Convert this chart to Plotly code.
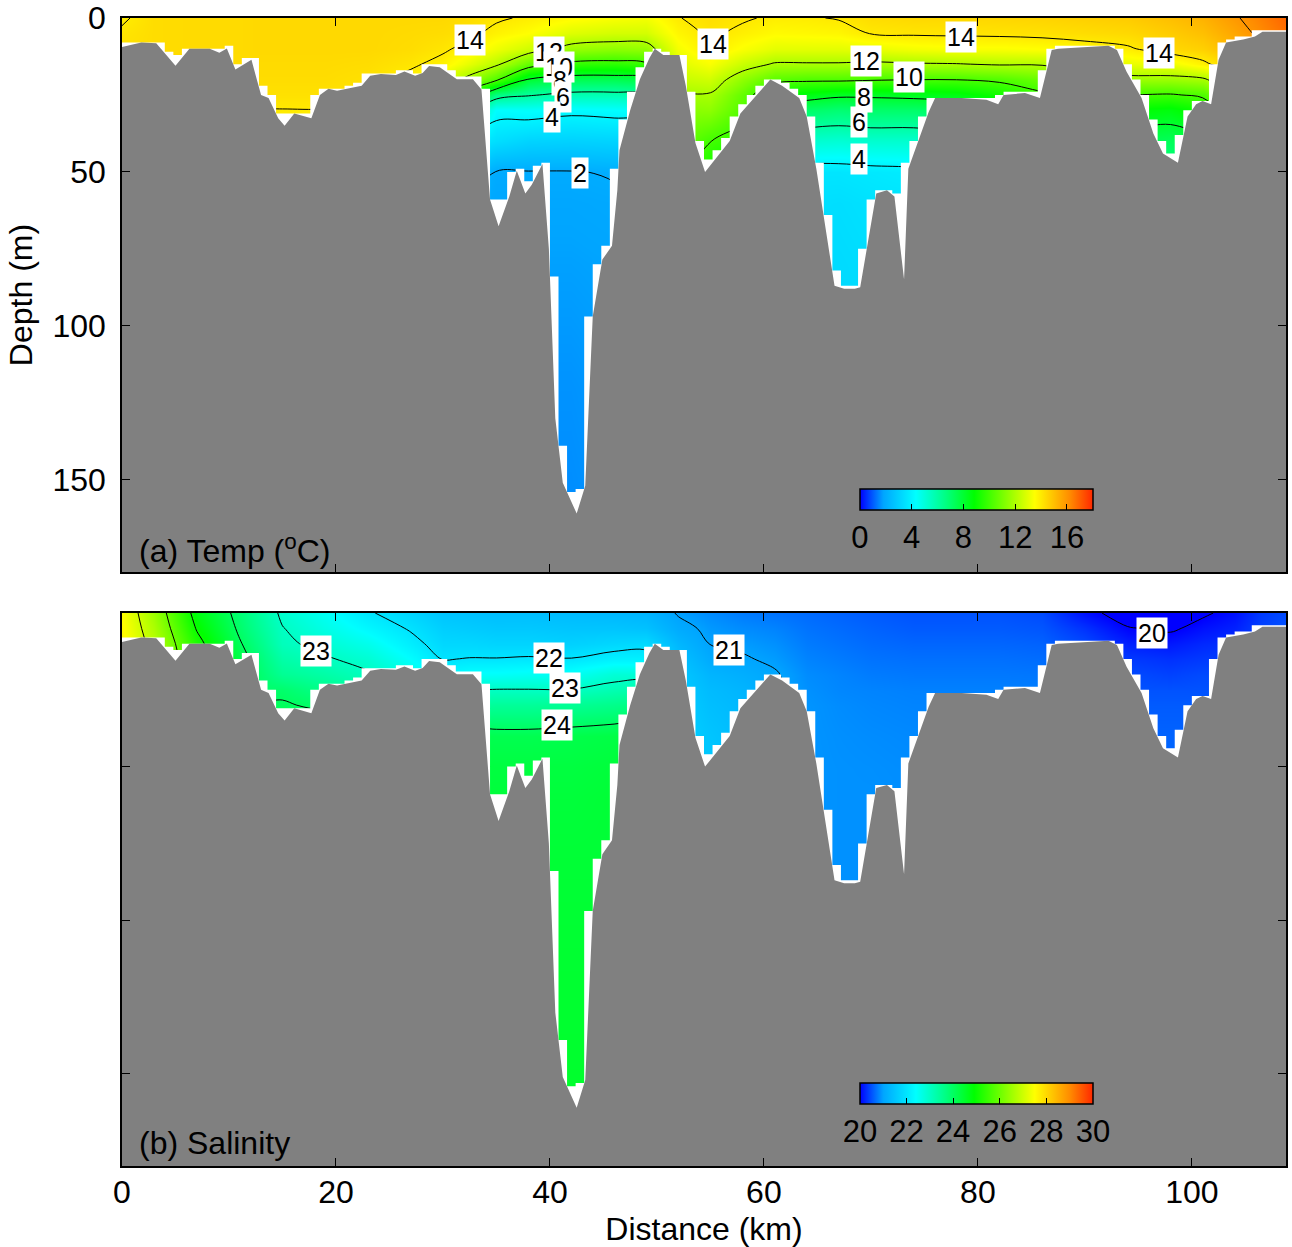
import numpy as np
import plotly.graph_objects as go

# ---------------- data ----------------
station_km = [0, 3, 7, 11, 13, 15, 19, 23, 27, 30, 32.5, 35, 38, 42, 46, 49, 52, 55, 58, 61,
              64, 67, 70, 74, 78, 82, 86, 90, 94, 98, 101, 104, 106.5, 108.8]
depth_levels = [0, 5, 10, 15, 20, 25, 30, 40, 50, 60, 80, 120, 180]

# temperature profiles (one list per station, values at depth_levels)
temp_profiles = [
    [13.9, 14.1, 14.2, 14.3, 14.3, 14.3, 14.3, 14.2, 14.1, 13.9, 13.9, 13.9, 13.9],
    [14.3, 14.3, 14.3, 14.3, 14.3, 14.3, 14.3, 14.2, 14.1, 13.9, 13.9, 13.9, 13.9],
    [14.35, 14.35, 14.35, 14.3, 14.3, 14.3, 14.2, 14.1, 13.9, 13.9, 13.9, 13.9, 13.9],
    [14.35, 14.35, 14.35, 14.3, 14.3, 14.2, 14.1, 13.9, 13.8, 13.7, 13.6, 13.5, 13.5],
    [14.4, 14.4, 14.4, 14.35, 14.3, 14.2, 13.98, 13.6, 13.2, 13.1, 13.1, 13.1, 13.1],
    [14.4, 14.4, 14.4, 14.35, 14.3, 14.2, 13.98, 13.6, 13.2, 13.1, 13.1, 13.1, 13.1],
    [14.4, 14.4, 14.4, 14.35, 14.3, 14.2, 13.98, 13.6, 13.2, 13.1, 13.1, 13.1, 13.1],
    [14.4, 14.4, 14.4, 14.3, 14.2, 14.1, 13.9, 13.5, 13.1, 12.5, 11.9, 11.9, 11.9],
    [14.4, 14.35, 14.3, 14.1, 13.8, 13.3, 12.5, 9.9, 7.1, 5.1, 3.9, 3.1, 3.1],
    [14.4, 14.3, 14.1, 13.8, 12.8, 11.5, 9.9, 7.1, 3.9, 3.1, 2.5, 1.9, 1.9],
    [14.3, 14.15, 13.8, 13.0, 11.6, 9.1, 6.5, 3.9, 2.6, 1.97, 1.8, 1.6, 1.5],
    [14.1, 13.8, 13.2, 12.2, 10.2, 6.6, 4.3, 3.4, 1.97, 1.85, 1.75, 1.6, 1.5],
    [13.9, 13.5, 12.6, 10.6, 7.9, 6.1, 4.4, 3.1, 1.97, 1.85, 1.75, 1.6, 1.5],
    [13.6, 12.9, 11.6, 9.7, 7.4, 5.7, 4.2, 3.05, 1.97, 1.85, 1.75, 1.6, 1.5],
    [13.4, 12.7, 11.4, 9.6, 7.4, 5.7, 4.3, 3.1, 2.05, 1.9, 1.8, 1.7, 1.6],
    [13.3, 12.7, 11.5, 9.8, 7.6, 5.9, 4.4, 3.2, 2.2, 2.1, 1.9, 1.8, 1.7],
    [13.97, 13.7, 13.3, 12.9, 12.4, 11.8, 11.3, 10.8, 10.5, 10.3, 10.2, 10.1, 10.1],
    [14.25, 14.12, 13.98, 13.4, 12.6, 11.9, 11.4, 10.02, 9.1, 8.3, 7.3, 6.3, 5.3],
    [14.08, 13.85, 13.4, 12.5, 11.4, 10.6, 10.3, 9.6, 8.1, 6.1, 4.1, 3.5, 3.1],
    [13.9, 13.6, 13.0, 11.9, 10.4, 8.8, 7.4, 5.6, 3.95, 3.6, 3.4, 3.2, 3.1],
    [13.93, 13.65, 13.0, 11.9, 10.2, 8.5, 7.1, 5.2, 3.6, 3.45, 3.35, 3.2, 3.1],
    [14.05, 13.7, 13.0, 11.9, 10.2, 8.2, 6.9, 5.1, 3.6, 3.4, 3.3, 3.2, 3.1],
    [14.3, 14.03, 13.1, 11.8, 10.1, 8.2, 7.05, 5.2, 3.7, 3.5, 3.4, 3.3, 3.1],
    [14.4, 14.1, 13.3, 11.9, 10.02, 8.3, 7.05, 5.2, 3.8, 3.6, 3.4, 3.3, 3.1],
    [14.4, 14.12, 13.4, 11.95, 10.02, 8.5, 7.2, 5.5, 4.2, 3.8, 3.5, 3.3, 3.1],
    [14.45, 14.15, 13.4, 12.1, 10.2, 9.1, 7.8, 6.1, 5.1, 4.5, 3.9, 3.5, 3.2],
    [14.5, 14.2, 13.5, 12.1, 10.7, 9.8, 8.6, 7.1, 6.1, 5.5, 5.1, 4.5, 3.9],
    [14.6, 14.3, 13.7, 12.6, 11.4, 10.2, 9.1, 7.5, 6.5, 6.1, 5.5, 5.1, 5.1],
    [14.7, 14.4, 13.9, 13.1, 11.6, 10.02, 8.8, 7.5, 6.6, 6.1, 5.5, 5.1, 5.1],
    [15.0, 14.7, 14.4, 13.2, 11.6, 9.9, 8.6, 7.3, 6.5, 6.1, 5.5, 5.1, 5.1],
    [15.3, 15.0, 14.6, 13.8, 11.8, 10.2, 9.1, 7.8, 7.1, 6.5, 6.1, 5.5, 5.1],
    [15.9, 15.6, 15.2, 14.6, 13.1, 11.9, 11.1, 9.9, 9.1, 7.9, 7.1, 6.1, 6.1],
    [16.4, 16.2, 15.9, 15.4, 13.9, 13.1, 11.9, 11.1, 9.9, 9.1, 7.9, 7.1, 7.1],
    [16.9, 16.7, 16.4, 15.9, 15.1, 13.9, 13.1, 11.9, 11.1, 9.9, 9.1, 7.9, 7.9],
]

# salinity profiles (one list per station, values at depth_levels)
sal_profiles = [
    [27.5, 27.55, 27.6, 27.65, 27.7, 27.7, 27.7, 27.7, 27.7, 27.7, 27.7, 27.7, 27.7],
    [26.5, 26.65, 26.8, 26.9, 26.95, 26.95, 26.95, 26.95, 26.95, 26.95, 26.95, 26.95, 26.95],
    [24.75, 24.95, 25.2, 25.35, 25.5, 25.6, 25.6, 25.6, 25.6, 25.6, 25.6, 25.6, 25.6],
    [23.8, 23.9, 24.05, 24.2, 24.3, 24.4, 24.4, 24.4, 24.4, 24.4, 24.4, 24.4, 24.4],
    [23.35, 23.45, 23.6, 23.75, 23.85, 23.9, 24.05, 24.3, 24.4, 24.4, 24.4, 24.4, 24.4],
    [22.9, 23.02, 23.1, 23.3, 23.5, 23.9, 24.05, 24.3, 24.4, 24.4, 24.4, 24.4, 24.4],
    [22.5, 22.65, 22.85, 23.05, 23.3, 23.6, 23.9, 24.3, 24.4, 24.4, 24.4, 24.4, 24.4],
    [22.05, 22.3, 22.6, 22.85, 23.05, 23.3, 23.6, 23.98, 24.3, 24.4, 24.4, 24.4, 24.4],
    [21.75, 21.95, 22.15, 22.4, 22.7, 22.98, 23.4, 23.98, 24.3, 24.4, 24.4, 24.4, 24.4],
    [21.5, 21.65, 21.8, 21.98, 22.3, 22.7, 23.1, 23.8, 24.3, 24.4, 24.4, 24.4, 24.4],
    [21.45, 21.6, 21.8, 22.02, 22.45, 22.98, 23.4, 24.2, 24.3, 24.35, 24.4, 24.4, 24.4],
    [21.4, 21.55, 21.75, 22.02, 22.45, 23.02, 23.45, 24.15, 24.3, 24.35, 24.4, 24.4, 24.4],
    [21.4, 21.55, 21.75, 22.05, 22.5, 23.02, 23.45, 24.15, 24.3, 24.35, 24.4, 24.45, 24.5],
    [21.35, 21.5, 21.7, 22.02, 22.5, 23.02, 23.5, 24.2, 24.3, 24.35, 24.4, 24.45, 24.5],
    [21.3, 21.5, 21.8, 22.2, 22.8, 23.2, 23.6, 24.25, 24.35, 24.4, 24.4, 24.45, 24.5],
    [21.25, 21.45, 21.85, 22.2, 22.8, 23.3, 23.7, 24.3, 24.4, 24.4, 24.4, 24.45, 24.5],
    [20.97, 21.1, 21.3, 21.45, 21.55, 21.6, 21.65, 21.7, 21.75, 21.8, 21.9, 21.95, 21.95],
    [20.85, 20.93, 20.99, 21.1, 21.25, 21.35, 21.4, 21.5, 21.55, 21.6, 21.6, 21.6, 21.6],
    [20.75, 20.85, 20.95, 21.03, 21.15, 21.25, 21.3, 21.35, 21.4, 21.4, 21.4, 21.4, 21.4],
    [20.7, 20.8, 20.88, 20.95, 21.03, 21.04, 21.02, 20.98, 20.97, 20.96, 20.95, 20.95, 20.95],
    [20.65, 20.7, 20.75, 20.8, 20.85, 20.88, 20.9, 20.9, 20.9, 20.9, 20.9, 20.9, 20.9],
    [20.6, 20.65, 20.7, 20.75, 20.8, 20.82, 20.85, 20.87, 20.88, 20.88, 20.88, 20.88, 20.88],
    [20.55, 20.6, 20.65, 20.7, 20.75, 20.8, 20.82, 20.85, 20.87, 20.88, 20.88, 20.88, 20.88],
    [20.5, 20.55, 20.62, 20.68, 20.73, 20.78, 20.8, 20.83, 20.85, 20.86, 20.86, 20.86, 20.86],
    [20.5, 20.55, 20.62, 20.68, 20.73, 20.78, 20.8, 20.83, 20.85, 20.86, 20.86, 20.86, 20.86],
    [20.5, 20.55, 20.62, 20.68, 20.73, 20.78, 20.8, 20.83, 20.85, 20.86, 20.86, 20.86, 20.86],
    [20.45, 20.52, 20.6, 20.66, 20.72, 20.76, 20.78, 20.82, 20.84, 20.85, 20.85, 20.85, 20.85],
    [20.1, 20.3, 20.45, 20.55, 20.62, 20.68, 20.72, 20.78, 20.8, 20.8, 20.8, 20.8, 20.8],
    [19.85, 20.02, 20.2, 20.35, 20.45, 20.5, 20.55, 20.6, 20.65, 20.65, 20.65, 20.65, 20.65],
    [19.6, 19.95, 20.15, 20.3, 20.4, 20.5, 20.55, 20.6, 20.62, 20.62, 20.62, 20.62, 20.62],
    [19.95, 20.1, 20.25, 20.35, 20.45, 20.5, 20.55, 20.6, 20.62, 20.62, 20.62, 20.62, 20.62],
    [20.1, 20.2, 20.3, 20.4, 20.45, 20.5, 20.55, 20.6, 20.62, 20.62, 20.62, 20.62, 20.62],
    [20.35, 20.4, 20.45, 20.5, 20.55, 20.58, 20.6, 20.62, 20.62, 20.62, 20.62, 20.62, 20.62],
    [20.45, 20.5, 20.52, 20.55, 20.58, 20.6, 20.62, 20.62, 20.62, 20.62, 20.62, 20.62, 20.62],
]

# bathymetry along the section
bathy_km = [0, 1.8, 3.2, 3.9, 5.0, 6.3, 8.2, 9.1, 9.8, 10.6, 12.1, 13.0, 13.7, 14.6, 15.2, 16.1,
            17.7, 18.5, 19.3, 20.1, 22.4, 23.2, 24.2, 25.6, 26.4, 27.4, 28.1, 28.7, 29.7, 31.3,
            32.8, 33.6, 34.4, 35.2, 36.2, 36.9, 37.7, 38.3, 39.3, 39.9, 40.5, 41.2, 42.5, 43.3,
            43.7, 44.0, 44.9, 45.8, 46.3, 46.5, 47.5, 48.4, 49.3, 49.8, 50.6, 52.1, 52.7, 53.6,
            54.5, 56.8, 57.8, 59.3, 60.6, 61.7, 63.3, 64.0, 64.9, 66.6, 67.5, 68.5, 69.0, 70.5,
            71.5, 72.2, 73.1, 73.5, 73.8, 75.4, 76.0, 78.5, 80.8, 81.9, 82.4, 84.4, 85.8, 86.9,
            87.5, 91.0, 92.2, 93.0, 93.9, 95.3, 96.4, 97.3, 98.7, 99.6, 100.4, 101.0, 101.8,
            102.5, 103.2, 104.8, 105.9, 106.6, 108.8]
bathy_m = [9.4, 8.0, 8.2, 10.9, 15.5, 10.0, 10.0, 11.3, 9.9, 16.7, 13.6, 25.0, 26.0, 32.6, 35.0, 31.0,
           32.6, 25.0, 23.0, 23.6, 22.0, 18.8, 18.2, 18.5, 17.4, 18.8, 17.9, 15.6, 16.0, 19.9,
           19.9, 23.2, 59.0, 67.7, 58.0, 49.6, 57.0, 54.2, 47.4, 75.0, 130.0, 151.0, 161.0, 152.0,
           118.5, 97.0, 78.5, 74.0, 56.0, 43.0, 30.0, 20.0, 13.0, 10.0, 12.0, 12.0, 22.0, 40.6,
           50.0, 40.0, 31.0, 25.0, 20.0, 22.0, 26.0, 32.0, 49.0, 87.0, 88.0, 88.0, 87.5, 57.0,
           56.0, 58.0, 85.0, 49.0, 46.0, 30.5, 26.0, 26.0, 26.6, 28.0, 25.0, 24.4, 26.0, 10.4,
           10.0, 9.4, 9.0, 10.4, 17.5, 26.0, 37.5, 44.0, 47.0, 32.0, 28.0, 27.0, 28.0,
           13.6, 8.0, 7.0, 6.0, 4.5, 4.5]

# contour labels (text, distance, depth)
temp_lbl_text = ['14', '14', '14', '14', '12', '10', '8', '6', '4', '2', '12', '10', '8', '6', '4']
temp_lbl_km = [32.5, 55.2, 78.4, 96.9, 39.9, 40.8, 40.9, 41.2, 40.2, 42.8, 69.5, 73.6, 69.4, 68.9, 68.9]
temp_lbl_m = [7.1, 8.4, 6.2, 11.4, 11.0, 15.9, 20.1, 25.6, 32.1, 50.3, 14.0, 19.2, 25.6, 33.8, 45.8]

sal_lbl_text = ['23', '22', '23', '24', '21', '20']
sal_lbl_km = [18.1, 39.9, 41.4, 40.7, 56.7, 96.3]
sal_lbl_m = [12.3, 14.6, 24.4, 36.4, 12.0, 6.5]

temp_ticks = [0, 4, 8, 12, 16]
sal_ticks = [20, 22, 24, 26, 28, 30]
x_ticks = [0, 20, 40, 60, 80, 100]
depth_ticks = [0, 50, 100, 150]

X_MAX = 108.8
D_MAX = 180

# ---------------- style ----------------
FONT = "Liberation Sans, Arial, sans-serif"
GREY = "rgb(128,128,128)"
CSCALE = [[0.0, 'rgb(0,0,255)'], [0.1, 'rgb(0,165,255)'], [0.24, 'rgb(0,255,255)'],
          [0.37, 'rgb(0,255,128)'], [0.49, 'rgb(0,255,0)'], [0.62, 'rgb(128,255,0)'],
          [0.75, 'rgb(255,255,0)'], [0.9, 'rgb(255,140,0)'], [1.0, 'rgb(255,40,0)']]
TICK_FS = 32
LBL_FS = 25

bx = np.array(bathy_km, dtype=float)
bd = np.array(bathy_m, dtype=float)

# data-grid staircase (last wet cell above the bottom in each grid column)
dx = 0.8
edges = list(np.arange(0, X_MAX, dx)) + [X_MAX]
step_x, step_y = [], []
for a, b in zip(edges[:-1], edges[1:]):
    inside = bd[(bx > a) & (bx < b)]
    m = min([np.interp(a, bx, bd), np.interp(b, bx, bd)] + list(inside))
    s = np.floor(m)
    step_x += [a, b]
    step_y += [s, s]

temp_z = np.array(temp_profiles).T
sal_z = np.array(sal_profiles).T

fig = go.Figure()


def add_panel(z, coloraxis, cstart, cend, csize, xa, ya):
    fig.add_trace(go.Heatmap(x=station_km, y=depth_levels, z=z, zsmooth='best',
                             coloraxis=coloraxis, hoverinfo='skip', xaxis=xa, yaxis=ya))
    fig.add_trace(go.Contour(x=station_km, y=depth_levels, z=z, showscale=False,
                             contours=dict(start=cstart, end=cend, size=csize, coloring='none'),
                             line=dict(color='black', width=1), hoverinfo='skip',
                             xaxis=xa, yaxis=ya))
    fig.add_trace(go.Scatter(x=step_x + [X_MAX, 0], y=step_y + [D_MAX, D_MAX], fill='toself',
                             fillcolor='white', mode='lines', line=dict(width=0, color='white'),
                             hoverinfo='skip', showlegend=False, xaxis=xa, yaxis=ya))
    fig.add_trace(go.Scatter(x=list(bx) + [X_MAX, 0], y=list(bd) + [D_MAX, D_MAX], fill='toself',
                             fillcolor=GREY, mode='lines', line=dict(width=0, color=GREY),
                             hoverinfo='skip', showlegend=False, xaxis=xa, yaxis=ya))


add_panel(temp_z, 'coloraxis', 2, 16, 2, 'x', 'y')
add_panel(sal_z, 'coloraxis2', 20, 27, 1, 'x2', 'y2')

annotations = []
for t, xk, dm in zip(temp_lbl_text, temp_lbl_km, temp_lbl_m):
    annotations.append(dict(x=xk, y=dm, xref='x', yref='y', text=t, showarrow=False,
                            bgcolor='white', borderpad=1,
                            font=dict(size=LBL_FS, color='black', family=FONT)))
for t, xk, dm in zip(sal_lbl_text, sal_lbl_km, sal_lbl_m):
    annotations.append(dict(x=xk, y=dm, xref='x2', yref='y2', text=t, showarrow=False,
                            bgcolor='white', borderpad=1,
                            font=dict(size=LBL_FS, color='black', family=FONT)))
annotations.append(dict(x=1.4, y=172.5, xref='x', yref='y', text='(a) Temp (<sup>o</sup>C)',
                        showarrow=False, xanchor='left', yanchor='middle',
                        font=dict(size=TICK_FS, color='black', family=FONT)))
annotations.append(dict(x=1.4, y=172.5, xref='x2', yref='y2', text='(b) Salinity',
                        showarrow=False, xanchor='left', yanchor='middle',
                        font=dict(size=TICK_FS, color='black', family=FONT)))

axis_common = dict(showline=True, linecolor='black', linewidth=1.5, mirror='ticks',
                   ticks='inside', ticklen=8, tickwidth=1, tickcolor='black',
                   showgrid=False, zeroline=False, automargin=False,
                   tickfont=dict(size=TICK_FS, color='black', family=FONT))


def cbar(y, ticks):
    return dict(orientation='h', x=0.734, xanchor='center', y=y, yanchor='top', yref='paper',
                len=233, lenmode='pixels', thickness=21, thicknessmode='pixels',
                outlinecolor='black', outlinewidth=1.5, ticks='inside', ticklen=6,
                tickcolor='black', tickwidth=1, tickvals=ticks, xpad=0, ypad=0,
                tickfont=dict(size=31, color='black', family=FONT))


fig.update_layout(
    width=1292, height=1247,
    margin=dict(l=122, r=6, t=18, b=81, autoexpand=False),
    paper_bgcolor='white', plot_bgcolor='white',
    showlegend=False,
    font=dict(family=FONT, color='black'),
    xaxis=dict(axis_common, domain=[0, 1], range=[0, X_MAX], tickvals=x_ticks,
               showticklabels=False, anchor='y'),
    yaxis=dict(axis_common, domain=[0.5174, 1], range=[D_MAX, 0], tickvals=depth_ticks,
               anchor='x', ticklabelstandoff=8,
               title=dict(text='Depth (m)', font=dict(size=TICK_FS, family=FONT), standoff=10)),
    xaxis2=dict(axis_common, domain=[0, 1], range=[0, X_MAX], tickvals=x_ticks, anchor='y2',
                ticklabelstandoff=-3,
                title=dict(text='Distance (km)', font=dict(size=TICK_FS, family=FONT), standoff=10)),
    yaxis2=dict(axis_common, domain=[0, 0.4817], range=[D_MAX, 0], tickvals=depth_ticks,
                showticklabels=False, anchor='x2'),
    coloraxis=dict(cmin=0, cmax=18, colorscale=CSCALE, colorbar=cbar(0.5897, temp_ticks)),
    coloraxis2=dict(cmin=20, cmax=30, colorscale=CSCALE, colorbar=cbar(0.0723, sal_ticks)),
    annotations=annotations,
)

fig.write_html("out.html")
